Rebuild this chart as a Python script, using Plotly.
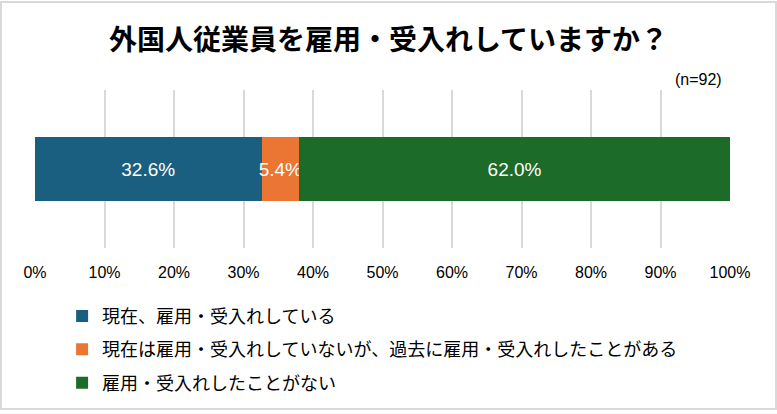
import plotly.graph_objects as go

# Survey result (n=92)
categories = ['現在、雇用・受入れしている',
              '現在は雇用・受入れしていないが、過去に雇用・受入れしたことがある',
              '雇用・受入れしたことがない']
shares = [32.6, 5.4, 62.0]
colors = ['#1A5E80', '#EB7532', '#1C6B28']
tick_vals = [0, 10, 20, 30, 40, 50, 60, 70, 80, 90, 100]
tick_text = [f'{v}%' for v in tick_vals]

W, H = 777, 414
ml, mr, mt, mb = 35, 47, 90, 164
font_family = 'Liberation Sans, Arial, Noto Sans CJK JP, sans-serif'

fig = go.Figure()
for i, (name, val, col) in enumerate(zip(categories, shares, colors)):
    fig.add_trace(go.Bar(
        y=['q'], x=[val], name=name, orientation='h',
        marker=dict(color=col, line=dict(width=0)),
        width=0.4,
        text=[f'{val:.1f}%'], textposition='inside', insidetextanchor='middle',
        textangle=0, constraintext='none',
        textfont=dict(color='white', size=19, family=font_family),
        legendgroup=f'g{i}',
    ))

# outer border of the chart
pw = W - ml - mr
ph = H - mt - mb
fig.add_shape(type='rect', xref='paper', yref='paper',
              x0=-(ml - 1) / pw, x1=(pw + mr - 1) / pw,
              y0=-(mb - 1) / ph, y1=(ph + mt - 1) / ph,
              line=dict(color='#D9D9D9', width=2), fillcolor='rgba(0,0,0,0)', layer='below')

fig.add_annotation(text='(n=92)', xref='paper', yref='paper', x=0.992, y=1.0,
                   xanchor='right', yanchor='bottom', showarrow=False,
                   font=dict(size=16, color='#000000', family=font_family))

fig.update_layout(
    width=W, height=H,
    margin=dict(l=ml, r=mr, t=mt, b=mb),
    barmode='stack',
    uniformtext=dict(minsize=19, mode='show'),
    paper_bgcolor='white', plot_bgcolor='white',
    font=dict(family=font_family, color='#000000'),
    title=dict(text='<b>外国人従業員を雇用・受入れしていますか？</b>',
               x=0.5, xref='container', xanchor='center', y=0.902, yref='container', yanchor='middle',
               font=dict(size=28, family='Noto Sans CJK JP', color='#000000')),
    xaxis=dict(range=[0, 100], tickvals=tick_vals, ticktext=tick_text,
               showgrid=True, gridcolor='#D9D9D9', gridwidth=1.5,
               zeroline=False, showline=False, ticks='', ticklabelstandoff=13,
               tickfont=dict(size=16, family=font_family, color='#000000')),
    yaxis=dict(showticklabels=False, showgrid=False, zeroline=False, range=[-0.5, 0.5]),
    legend=dict(orientation='v', x=0.039, xanchor='left', y=-0.315, yanchor='top',
                traceorder='grouped', tracegroupgap=7,
                font=dict(size=18, family='Noto Sans CJK JP', color='#000000'),
                itemwidth=30, bgcolor='rgba(0,0,0,0)'),
)

fig.write_html('out.html', config={'displayModeBar': False},
               post_script="document.body.style.margin='0';")
